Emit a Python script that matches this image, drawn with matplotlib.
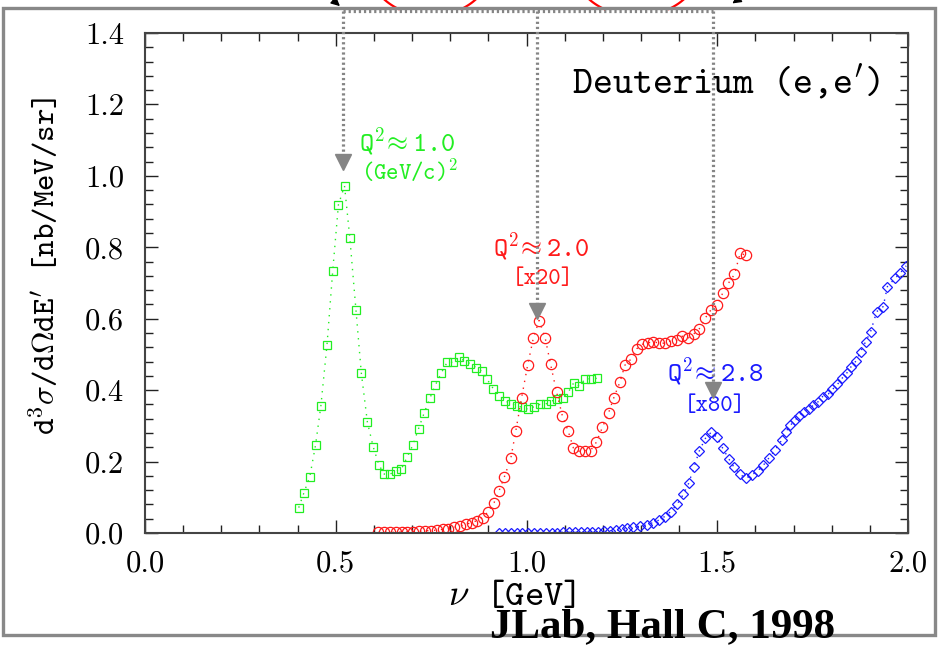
import numpy as np
import matplotlib.pyplot as plt
from matplotlib.ticker import MultipleLocator, FormatStrFormatter
from matplotlib.patches import Rectangle, FancyArrowPatch
from matplotlib.lines import Line2D

plt.rcParams['font.family'] = ['cmr10']
plt.rcParams['mathtext.fontset'] = 'cm'
plt.rcParams['axes.formatter.use_mathtext'] = True

# Q^2 ~ 1.0 (GeV/c)^2, green squares
g_nu = [0.403, 0.416, 0.432, 0.447, 0.461, 0.477, 0.492, 0.507, 0.523, 0.537,
        0.553, 0.567, 0.583, 0.598, 0.613, 0.627, 0.642, 0.658, 0.672, 0.687,
        0.702, 0.717, 0.732, 0.747, 0.761, 0.777, 0.792, 0.808, 0.823, 0.837,
        0.853, 0.868, 0.883, 0.897, 0.913, 0.929, 0.944, 0.960, 0.974, 0.989,
        1.005, 1.020, 1.035, 1.050, 1.065, 1.080, 1.095, 1.110, 1.124, 1.138,
        1.154, 1.169, 1.184]
g_xs = [0.071, 0.111, 0.158, 0.246, 0.356, 0.526, 0.733, 0.919, 0.972, 0.825,
        0.624, 0.448, 0.310, 0.242, 0.191, 0.165, 0.165, 0.173, 0.179, 0.212,
        0.246, 0.292, 0.337, 0.378, 0.414, 0.449, 0.478, 0.478, 0.492, 0.482,
        0.474, 0.463, 0.453, 0.430, 0.404, 0.384, 0.370, 0.362, 0.356, 0.352,
        0.346, 0.354, 0.360, 0.361, 0.369, 0.375, 0.379, 0.395, 0.421, 0.412,
        0.431, 0.432, 0.433]

# Q^2 ~ 2.0, x20, red circles
r_nu = [0.612, 0.626, 0.642, 0.657, 0.673, 0.688, 0.703, 0.718, 0.734, 0.749,
        0.765, 0.780, 0.795, 0.811, 0.826, 0.841, 0.856, 0.871, 0.885, 0.899,
        0.915, 0.928, 0.942, 0.959, 0.972, 0.987, 1.003, 1.018, 1.033, 1.049,
        1.063, 1.079, 1.094, 1.109, 1.123, 1.138, 1.153, 1.168, 1.183, 1.199,
        1.215, 1.229, 1.245, 1.258, 1.274, 1.289, 1.303, 1.318, 1.332, 1.347,
        1.363, 1.378, 1.394, 1.408, 1.424, 1.439, 1.453, 1.468, 1.483, 1.499,
        1.514, 1.529, 1.545, 1.560, 1.575]
r_xs = [0.002, 0.002, 0.002, 0.002, 0.003, 0.003, 0.004, 0.005, 0.006, 0.007,
        0.008, 0.010, 0.012, 0.016, 0.020, 0.024, 0.029, 0.035, 0.043, 0.059,
        0.085, 0.118, 0.157, 0.210, 0.286, 0.378, 0.470, 0.546, 0.595, 0.546,
        0.473, 0.394, 0.328, 0.286, 0.238, 0.229, 0.231, 0.231, 0.254, 0.296,
        0.336, 0.379, 0.423, 0.470, 0.487, 0.516, 0.528, 0.533, 0.534, 0.533,
        0.531, 0.538, 0.540, 0.551, 0.546, 0.558, 0.572, 0.601, 0.624, 0.638,
        0.671, 0.699, 0.724, 0.783, 0.778]

# Q^2 ~ 2.8, x80, blue diamonds
b_nu = [0.928, 0.944, 0.959, 0.974, 0.989, 1.005, 1.020, 1.035, 1.050, 1.066,
        1.081, 1.096, 1.111, 1.127, 1.142, 1.158, 1.172, 1.188, 1.203, 1.219,
        1.234, 1.250, 1.264, 1.280,
        1.297, 1.315, 1.331, 1.347, 1.362, 1.378, 1.395, 1.411, 1.425, 1.439,
        1.453, 1.469, 1.484, 1.499, 1.514, 1.530, 1.544, 1.560, 1.575, 1.590,
        1.606, 1.621, 1.636, 1.651,
        1.669, 1.680, 1.692, 1.704, 1.715, 1.727, 1.740, 1.752, 1.765, 1.776,
        1.791, 1.802, 1.815, 1.827, 1.839, 1.851, 1.864, 1.876, 1.889, 1.902,
        1.918, 1.935, 1.946, 1.966, 1.979, 1.995]
b_xs = [0.001, 0.001, 0.001, 0.001, 0.001, 0.001, 0.001, 0.001, 0.001, 0.001,
        0.001, 0.002, 0.002, 0.002, 0.002, 0.003, 0.003, 0.004, 0.005, 0.006,
        0.008, 0.010, 0.013, 0.016,
        0.019, 0.023, 0.029, 0.036, 0.046, 0.060, 0.081, 0.108, 0.139, 0.184,
        0.230, 0.265, 0.282, 0.268, 0.238, 0.208, 0.184, 0.164, 0.153, 0.162,
        0.174, 0.190, 0.211, 0.232,
        0.260, 0.284, 0.302, 0.316, 0.328, 0.338, 0.346, 0.358, 0.368, 0.382,
        0.389, 0.402, 0.416, 0.433, 0.447, 0.466, 0.482, 0.508, 0.536, 0.564,
        0.620, 0.634, 0.690, 0.713, 0.727, 0.748]

# gray pointer arrows (nu position, y of arrow head centre)
arrow_nu = [0.519, 1.028, 1.489]
arrow_y = [1.0375, 0.623, 0.400]
arrow_top = 1.462

green = '#22ee22'
red = '#ff1a1a'
blue = '#1a1aff'
gray = '#858585'

fig = plt.figure(figsize=(9.38, 6.46), dpi=100)
ax = fig.add_axes([145/938, 113/646, 763/938, 500/646])

dots = (0, (1, 4))
ax.plot(g_nu, g_xs, ls=dots, lw=1, color=green, marker='s', ms=6.4,
        mfc='none', mec=green, mew=0.9)
ax.plot(r_nu, r_xs, ls=dots, lw=1, color=red, marker='o', ms=7.4,
        mfc='none', mec=red, mew=0.9)
ax.plot(b_nu, b_xs, ls=dots, lw=1, color=blue, marker='D', ms=4.6,
        mfc='none', mec=blue, mew=0.9)

ax.set_xlim(0, 2)
ax.set_ylim(0, 1.4)
ax.xaxis.set_major_locator(MultipleLocator(0.5))
ax.xaxis.set_minor_locator(MultipleLocator(0.1))
ax.yaxis.set_major_locator(MultipleLocator(0.2))
ax.yaxis.set_minor_locator(MultipleLocator(0.04))
ax.xaxis.set_major_formatter(FormatStrFormatter('%.1f'))
ax.yaxis.set_major_formatter(FormatStrFormatter('%.1f'))
ax.tick_params(which='both', direction='in', top=True, right=True,
               color='#222222', labelsize=22)
ax.tick_params(which='major', length=9.5, width=1.0)
ax.tick_params(which='minor', length=5.5, width=1.0)
ax.tick_params(axis='x', pad=12)
ax.tick_params(axis='y', pad=15)
for s in ax.spines.values():
    s.set_linewidth(1.5)
    s.set_color('#444444')

ax.set_ylabel(r'd$^3\sigma$/d$\Omega$dE$^{\prime}$ [nb/MeV/sr]',
              family='cmtt10', fontsize=22.5)
ax.yaxis.set_label_coords(-0.108, 0.535)
ax.set_xlabel(r'$\nu$ [GeV]', family='cmtt10', fontsize=26.5)
ax.xaxis.set_label_coords(0.481, -0.093)

ax.text(0.963, 0.90, r'Deuterium (e,e$^{\prime}$)', transform=ax.transAxes,
        family='cmtt10', fontsize=27.5, ha='right', va='center')

ax.text(0.687, 1.095, r'Q$^2\!\approx$1.0', color=green, family='cmtt10',
        fontsize=19.5, ha='center', va='center')
ax.text(0.695, 1.011, r'(GeV/c)$^2$', color=green, family='cmtt10',
        fontsize=17, ha='center', va='center')
ax.text(1.038, 0.801, r'Q$^2\!\approx$2.0', color=red, family='cmtt10',
        fontsize=19.5, ha='center', va='center')
ax.text(1.043, 0.7085, '[x20]', color=red, family='cmtt10',
        fontsize=17, ha='center', va='center')
ax.text(1.494, 0.451, r'Q$^2\!\approx$2.8', color=blue, family='cmtt10',
        fontsize=19.5, ha='center', va='center')
ax.text(1.494, 0.353, '[x80]', color=blue, family='cmtt10',
        fontsize=17, ha='center', va='center')

# dotted pointers from the top of the frame
pdots = (0, (0.7, 0.9))
for nu, yh in zip(arrow_nu, arrow_y):
    ax.plot([nu, nu], [arrow_top, yh + 0.02], ls=pdots, lw=2.3, color=gray,
            clip_on=False, zorder=4)
    ax.plot([nu], [yh], marker='v', ms=11, color=gray, clip_on=False, zorder=4)
ax.plot([arrow_nu[0], arrow_nu[-1]], [arrow_top, arrow_top], ls=pdots, lw=2.3,
        color=gray, clip_on=False, zorder=4)

# outer frame
W, H = 938, 646
fig.add_artist(Rectangle((2.5/W, 1 - 635.3/H), (935 - 2.5)/W, (635.3 - 7.7)/H,
                         transform=fig.transFigure, fill=False, ec='#888888',
                         lw=2.4, zorder=5))

# pieces of annotations cut off at the top edge
t = np.radians(np.linspace(42.8, 59.3, 12))
for cx, a in [(430, 61.5), (636.5, 63.5)]:
    for sgn in (1, -1):
        px = cx + sgn * a * np.cos(t)
        py = -34 + 50 * np.sin(t)
        fig.add_artist(Line2D(px / W, 1 - py / H, transform=fig.transFigure,
                              color='red', lw=1.6))
fig.add_artist(FancyArrowPatch((322/W, 1 + 10/H), (342/W, 1 - 8/H),
                               transform=fig.transFigure, arrowstyle='-|>',
                               mutation_scale=13, color='black', lw=1.0))
fig.add_artist(FancyArrowPatch((752/W, 1 + 10/H), (730/W, 1 - 5/H),
                               transform=fig.transFigure, arrowstyle='-|>',
                               mutation_scale=13, color='black', lw=1.0))

fig.text(662/W, 1 - 637/H, 'JLab, Hall C, 1998', family='Liberation Serif',
         fontweight='bold', fontsize=31, ha='center', va='baseline', zorder=6)

fig.savefig('out.png', dpi=100)
